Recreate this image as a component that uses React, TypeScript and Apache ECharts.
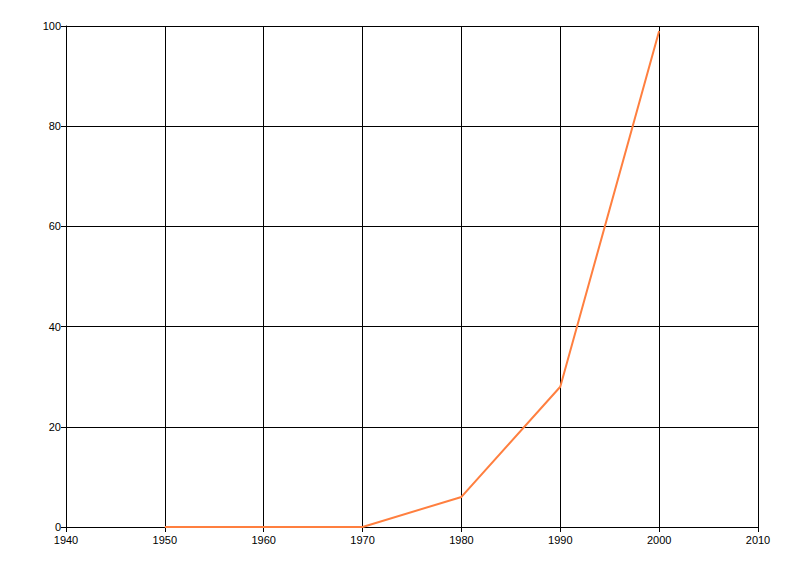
import React, { useEffect, useRef } from "react";
import * as echarts from "echarts";

const years = [1950, 1960, 1970, 1980, 1990, 2000];
const values = [0, 0, 0, 6, 28, 99];

export default function App() {
  const ref = useRef<HTMLDivElement>(null);
  useEffect(() => {
    const chart = echarts.init(ref.current!, null, { renderer: "svg" });
    chart.setOption({
      animation: false,
      backgroundColor: "#ffffff",
      grid: { left: 66, right: 42, top: 26, bottom: 49, containLabel: false },
      xAxis: {
        type: "value",
        min: 1940,
        max: 2010,
        interval: 10,
        axisLine: { show: true, lineStyle: { color: "#000", width: 1 } },
        axisTick: { show: true, length: 5, lineStyle: { color: "#000" } },
        axisLabel: {
          color: "#000",
          fontSize: 11,
          fontFamily: "Liberation Sans, Arial, sans-serif",
          margin: 7,
          formatter: (v: number) => String(v),
        },
        splitLine: { show: true, lineStyle: { color: "#000", width: 1 } },
      },
      yAxis: {
        type: "value",
        min: 0,
        max: 100,
        interval: 20,
        axisLine: { show: true, lineStyle: { color: "#000", width: 1 } },
        axisTick: { show: true, length: 5, lineStyle: { color: "#000" } },
        axisLabel: {
          color: "#000",
          fontSize: 11,
          fontFamily: "Liberation Sans, Arial, sans-serif",
          margin: 5,
        },
        splitLine: { show: true, lineStyle: { color: "#000", width: 1 } },
      },
      series: [
        {
          type: "line",
          data: years.map((y, i) => [y, values[i]]),
          showSymbol: false,
          symbol: "none",
          lineStyle: { color: "#FF7F3F", width: 2 },
        },
      ],
    });
    return () => chart.dispose();
  }, []);
  return (
    <div
      ref={ref}
      style={{ position: "absolute", left: 0, top: 0, width: 800, height: 576 }}
    />
  );
}
